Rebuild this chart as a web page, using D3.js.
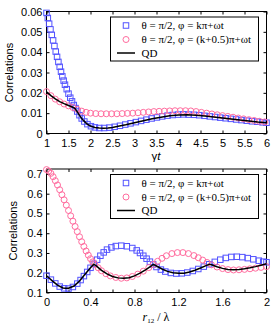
<!DOCTYPE html>
<html>
<head>
<meta charset="utf-8">
<script src="https://cdn.jsdelivr.net/npm/d3@7.9.0/dist/d3.min.js"></script>
<style>
  body { margin: 0; background: #fff; }
  text { font-family: Arial, "Liberation Sans", sans-serif; }
  .serif { font-family: "Liberation Serif", "Times New Roman", serif; }
</style>
</head>
<body>
<svg id="chart" width="277" height="325"></svg>
<script>
// legend entries (shared by both panels)
const seriesNames = ['θ = π/2, φ = kπ+ωt', 'θ = π/2, φ = (k+0.5)π+ωt', 'QD'];

// top panel: correlations vs gamma*t
const gtTicks = [1, 1.5, 2, 2.5, 3, 3.5, 4, 4.5, 5, 5.5, 6];
const gtTickLabels = ['1', '1.5', '2', '2.5', '3', '3.5', '4', '4.5', '5', '5.5', '6'];
const corrTicksTop = [0, 0.01, 0.02, 0.03, 0.04, 0.05, 0.06];
const corrLabelsTop = ['0', '0.01', '0.02', '0.03', '0.04', '0.05', '0.06'];

const gtSquares = [[1.00,0.0593],[1.03,0.0568],[1.06,0.0540],[1.09,0.0512],[1.12,0.0485],[1.15,0.0458],
  [1.18,0.0430],[1.21,0.0403],[1.24,0.0377],[1.27,0.0352],[1.30,0.0328],[1.33,0.0304],[1.36,0.0281],
  [1.39,0.0260],[1.42,0.0240],[1.46,0.0218],[1.50,0.0196],[1.54,0.0176],[1.58,0.0158],[1.62,0.0140],
  [1.66,0.0125],[1.70,0.0108],[1.75,0.0090],[1.80,0.0074],[1.86,0.0059],[1.93,0.0046],[2.01,0.0036],
  [2.10,0.0030],[2.20,0.0027],[2.31,0.0027],[2.43,0.0029],[2.55,0.0033],[2.67,0.0038],[2.79,0.0044],
  [2.91,0.0050],[3.03,0.0056],[3.15,0.0062],[3.27,0.0068],[3.39,0.0074],[3.51,0.0079],[3.63,0.0084],
  [3.75,0.0088],[3.87,0.0091],[3.99,0.0093],[4.11,0.0094],[4.23,0.0093],[4.35,0.0092],[4.47,0.0090],
  [4.59,0.0087],[4.71,0.0084],[4.83,0.0081],[4.95,0.0078],[5.07,0.0075],[5.19,0.0072],[5.31,0.0069],
  [5.43,0.0066],[5.55,0.0063],[5.67,0.0060],[5.79,0.0058],[5.91,0.0055],[6.00,0.0053]];

const gtCircles = [[1.00,0.0206],[1.10,0.0186],[1.20,0.0169],[1.30,0.0156],[1.40,0.0145],[1.50,0.0136],
  [1.60,0.0128],[1.70,0.0119],[1.80,0.0110],[1.90,0.0104],[2.00,0.0100],[2.12,0.0098],[2.24,0.0097],
  [2.36,0.0097],[2.48,0.0097],[2.60,0.0097],[2.72,0.0098],[2.84,0.0099],[2.96,0.0100],[3.08,0.0102],
  [3.20,0.0104],[3.32,0.0106],[3.44,0.0108],[3.56,0.0109],[3.68,0.0110],[3.80,0.0111],[3.92,0.0112],
  [4.04,0.0112],[4.16,0.0112],[4.28,0.0111],[4.40,0.0108],[4.52,0.0104],[4.64,0.0100],[4.76,0.0096],
  [4.88,0.0092],[5.00,0.0088],[5.12,0.0084],[5.24,0.0080],[5.36,0.0076],[5.48,0.0072],[5.60,0.0068],
  [5.72,0.0064],[5.84,0.0060],[5.96,0.0057]];

const gtQD = [[1.00,0.0205],[1.10,0.0186],[1.20,0.0170],[1.30,0.0157],[1.40,0.0147],[1.50,0.0138],
  [1.60,0.0129],[1.65,0.0123],[1.70,0.0106],[1.75,0.0089],[1.80,0.0074],[1.85,0.0062],[1.90,0.0051],
  [1.95,0.0043],[2.00,0.0037],[2.10,0.0030],[2.20,0.0027],[2.30,0.0026],[2.40,0.0027],[2.50,0.0030],
  [2.60,0.0034],[2.80,0.0043],[3.00,0.0053],[3.20,0.0063],[3.40,0.0072],[3.60,0.0080],[3.80,0.0087],
  [4.00,0.0091],[4.20,0.0092],[4.40,0.0090],[4.60,0.0086],[4.80,0.0081],[5.00,0.0076],[5.20,0.0071],
  [5.40,0.0066],[5.60,0.0062],[5.80,0.0057],[6.00,0.0053]];

// bottom panel: correlations vs r12/lambda
const rTicks = [0, 0.2, 0.4, 0.6, 0.8, 1, 1.2, 1.4, 1.6, 1.8, 2];
const rTickLabels = ['0', '', '0.4', '', '0.8', '', '1.2', '', '1.6', '', '2'];
const corrTicksBot = [0.1, 0.2, 0.3, 0.4, 0.5, 0.6, 0.7];
const corrLabelsBot = ['0.1', '0.2', '0.3', '0.4', '0.5', '0.6', '0.7'];

const rSquares = [[0.00,0.185],[0.04,0.165],[0.08,0.146],[0.12,0.130],[0.16,0.121],[0.20,0.120],
  [0.24,0.128],[0.28,0.145],[0.31,0.163],[0.34,0.183],[0.37,0.204],[0.40,0.225],[0.43,0.245],
  [0.46,0.266],[0.49,0.286],[0.52,0.303],[0.55,0.317],[0.59,0.328],[0.63,0.335],[0.68,0.337],
  [0.73,0.334],[0.78,0.325],[0.82,0.313],[0.85,0.300],[0.88,0.286],[0.91,0.271],[0.94,0.256],
  [0.97,0.242],[1.00,0.229],[1.04,0.216],[1.08,0.206],[1.13,0.199],[1.18,0.196],[1.23,0.197],
  [1.28,0.201],[1.33,0.209],[1.38,0.219],[1.43,0.231],[1.48,0.243],[1.53,0.255],[1.58,0.266],
  [1.63,0.275],[1.68,0.280],[1.73,0.281],[1.78,0.279],[1.83,0.274],[1.88,0.268],[1.93,0.261],
  [1.97,0.256],[2.00,0.253]];

const rCircles = [[0.00,0.722],[0.02,0.715],[0.04,0.703],[0.06,0.686],[0.08,0.666],[0.10,0.644],
  [0.12,0.620],[0.14,0.595],[0.16,0.569],[0.18,0.542],[0.20,0.515],[0.22,0.488],[0.24,0.461],
  [0.26,0.434],[0.28,0.408],[0.30,0.382],[0.32,0.357],[0.34,0.333],[0.36,0.310],[0.38,0.289],
  [0.40,0.271],[0.42,0.255],[0.44,0.242],[0.47,0.225],[0.50,0.210],[0.54,0.195],[0.58,0.184],
  [0.63,0.176],[0.68,0.172],[0.73,0.174],[0.78,0.181],[0.83,0.193],[0.88,0.208],[0.93,0.226],
  [0.97,0.242],[1.01,0.258],[1.05,0.273],[1.09,0.286],[1.14,0.297],[1.19,0.302],[1.24,0.302],
  [1.29,0.297],[1.34,0.287],[1.38,0.276],[1.42,0.264],[1.46,0.252],[1.50,0.240],[1.55,0.229],
  [1.60,0.221],[1.65,0.216],[1.70,0.214],[1.75,0.215],[1.80,0.217],[1.85,0.220],[1.90,0.223],
  [1.95,0.227],[2.00,0.231]];

const rQD = [[0.00,0.185],[0.05,0.160],[0.10,0.137],[0.15,0.123],[0.17,0.121],[0.20,0.122],
  [0.25,0.133],[0.30,0.158],[0.35,0.192],[0.40,0.225],[0.43,0.243],[0.45,0.236],[0.50,0.212],
  [0.55,0.194],[0.60,0.181],[0.65,0.174],[0.70,0.172],[0.75,0.175],[0.80,0.184],[0.85,0.198],
  [0.90,0.215],[0.95,0.233],[0.97,0.242],[1.00,0.234],[1.05,0.219],[1.10,0.207],[1.15,0.200],
  [1.20,0.197],[1.25,0.198],[1.30,0.204],[1.35,0.213],[1.40,0.224],[1.45,0.236],[1.48,0.243],
  [1.50,0.240],[1.55,0.230],[1.60,0.222],[1.65,0.217],[1.70,0.215],[1.75,0.216],[1.80,0.220],
  [1.85,0.225],[1.90,0.231],[1.95,0.238],[2.00,0.245]];

const blue = '#5252ff';
const pink = '#ff6d9f';
const svg = d3.select('#chart');

function drawPanel(p) {
  const left = 46.5, right = 266.5;
  const x = d3.scaleLinear().domain(p.xDomain).range([left, right]);
  const y = d3.scaleLinear().domain(p.yDomain).range([p.bottom, p.top]);
  const g = svg.append('g');

  const styleAxis = (a) => {
    a.select('.domain').remove();
    a.attr('font-size', 11).attr('font-family', 'Arial, "Liberation Sans", sans-serif');
  };
  g.append('g').attr('transform', `translate(0,${p.bottom})`)
    .call(d3.axisBottom(x).tickValues(p.xTicks).tickFormat((d, i) => p.xLabels[i]).tickSize(-3).tickPadding(6))
    .call(styleAxis);
  g.append('g').attr('transform', `translate(0,${p.top})`)
    .call(d3.axisTop(x).tickValues(p.xTicks).tickFormat('').tickSize(-3))
    .call(styleAxis);
  g.append('g').attr('transform', `translate(${left},0)`)
    .call(d3.axisLeft(y).tickValues(p.yTicks).tickFormat((d, i) => p.yLabels[i]).tickSize(-3).tickPadding(4))
    .call(styleAxis);
  g.append('g').attr('transform', `translate(${right},0)`)
    .call(d3.axisRight(y).tickValues(p.yTicks).tickFormat('').tickSize(-3))
    .call(styleAxis);

  g.append('rect')
    .attr('x', left).attr('y', p.top)
    .attr('width', right - left).attr('height', p.bottom - p.top)
    .attr('fill', 'none').attr('stroke', '#000');

  // data
  g.append('g').selectAll('rect').data(p.squares).join('rect')
    .attr('x', d => x(d[0]) - 2.75).attr('y', d => y(d[1]) - 2.75)
    .attr('width', 5.5).attr('height', 5.5)
    .attr('fill', 'none').attr('stroke', blue).attr('stroke-width', 1);
  g.append('g').selectAll('circle').data(p.circles).join('circle')
    .attr('cx', d => x(d[0])).attr('cy', d => y(d[1])).attr('r', 3)
    .attr('fill', 'none').attr('stroke', pink).attr('stroke-width', 1);
  g.append('path').datum(p.qd)
    .attr('d', d3.line().x(d => x(d[0])).y(d => y(d[1])))
    .attr('fill', 'none').attr('stroke', '#000').attr('stroke-width', 1.5);

  // axis titles
  g.append('text')
    .attr('transform', `translate(${p.yTitleX},${(p.top + p.bottom) / 2}) rotate(-90)`)
    .attr('text-anchor', 'middle').attr('dy', '0.35em')
    .attr('font-size', 11).text('Correlations');
  p.xTitle(g.append('text').attr('x', 156).attr('y', p.xTitleY).attr('text-anchor', 'middle'));

  // legend
  const lx = 110.5, ly = p.top + 5.5;
  const lg = g.append('g');
  lg.append('rect').attr('x', lx).attr('y', ly).attr('width', 148).attr('height', 44)
    .attr('fill', '#fff').attr('stroke', '#000');
  const rows = [ly + 8.5, ly + 22.5, ly + 36];
  lg.append('rect').attr('x', 126 - 2.75).attr('y', rows[0] - 2.75).attr('width', 5.5).attr('height', 5.5)
    .attr('fill', 'none').attr('stroke', blue);
  lg.append('circle').attr('cx', 126).attr('cy', rows[1]).attr('r', 3)
    .attr('fill', 'none').attr('stroke', pink);
  lg.append('line').attr('x1', 117).attr('x2', 135).attr('y1', rows[2]).attr('y2', rows[2])
    .attr('stroke', '#000').attr('stroke-width', 1.5);
  lg.selectAll('text.leg').data(seriesNames).join('text')
    .attr('class', 'leg serif')
    .attr('x', 141.5).attr('y', (d, i) => rows[i]).attr('dy', '0.35em')
    .attr('font-size', 11).text(d => d);
}

drawPanel({
  xDomain: [1, 6], yDomain: [0, 0.06], top: 11.5, bottom: 133.5,
  xTicks: gtTicks, xLabels: gtTickLabels, yTicks: corrTicksTop, yLabels: corrLabelsTop,
  squares: gtSquares, circles: gtCircles, qd: gtQD,
  yTitleX: 9, xTitleY: 160,
  xTitle: t => {
    t.attr('font-size', 11.5);
    t.append('tspan').text('γ');
    t.append('tspan').attr('font-style', 'italic').text('t');
  }
});

drawPanel({
  xDomain: [0, 2], yDomain: [0.1, 0.725], top: 169, bottom: 292.5,
  xTicks: rTicks, xLabels: rTickLabels, yTicks: corrTicksBot, yLabels: corrLabelsBot,
  squares: rSquares, circles: rCircles, qd: rQD,
  yTitleX: 13.5, xTitleY: 321,
  xTitle: t => {
    t.attr('class', 'serif').attr('font-size', 12);
    t.append('tspan').attr('font-style', 'italic').text('r');
    t.append('tspan').attr('font-size', 7).attr('dy', 2).text('12');
    t.append('tspan').attr('dy', -2).text(' / λ');
  }
});
</script>
</body>
</html>
